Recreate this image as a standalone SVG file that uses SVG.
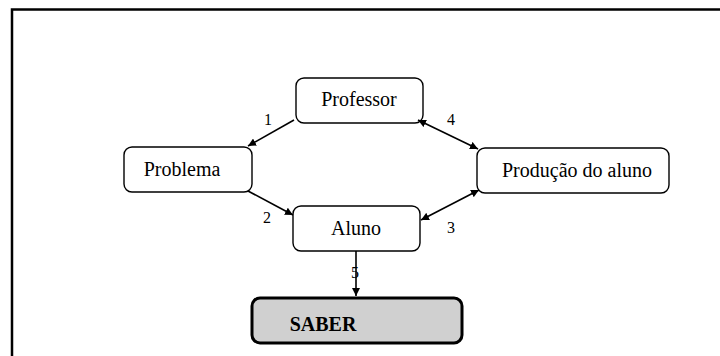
<svg xmlns="http://www.w3.org/2000/svg" width="720" height="356" viewBox="0 0 720 356">
<defs>
<marker id="ah" viewBox="0 0 10 10" refX="10" refY="5" markerWidth="8" markerHeight="8" markerUnits="userSpaceOnUse" orient="auto-start-reverse">
<path d="M0,0 L10,5 L0,10 z" fill="#000"/>
</marker>
<style>
.box{fill:#fff;stroke:#000;stroke-width:1.4}
.saber{fill:#d0d0d0;stroke:#000;stroke-width:3}
.t{font-family:"Liberation Serif","Times New Roman",serif;font-size:20px;fill:#000;text-anchor:middle}
.b{font-weight:bold}
.lbl{font-family:"Liberation Serif","Times New Roman",serif;font-size:16px;fill:#000;text-anchor:middle}
.c{stroke:#000;stroke-width:1.6;fill:none}
</style>
</defs>
<rect width="720" height="356" fill="#fff"/>
<path d="M12,356 V9.5 H720" fill="none" stroke="#000" stroke-width="2.5"/>
<g id="professor"><rect class="box" x="296" y="78" width="127" height="45" rx="8"/><text class="t" x="359" y="106">Professor</text></g>
<g id="problema"><rect class="box" x="124" y="147" width="128" height="45" rx="8"/><text class="t" x="182" y="176">Problema</text></g>
<g id="producao"><rect class="box" x="477" y="148" width="192" height="45" rx="8"/><text class="t" x="577" y="177">Produção do aluno</text></g>
<g id="aluno"><rect class="box" x="293" y="206" width="127" height="45" rx="8"/><text class="t" x="356" y="235">Aluno</text></g>
<g id="saber"><rect class="saber" x="252" y="298" width="210" height="45" rx="8"/><text class="t b" x="323" y="331">SABER</text></g>
<g id="connectors">
<line class="c" x1="294" y1="120" x2="248" y2="146" marker-end="url(#ah)"/>
<line class="c" x1="418" y1="120" x2="478" y2="149" marker-start="url(#ah)" marker-end="url(#ah)"/>
<line class="c" x1="248" y1="191" x2="293" y2="215" marker-end="url(#ah)"/>
<line class="c" x1="479" y1="190" x2="421" y2="220" marker-start="url(#ah)" marker-end="url(#ah)"/>
<line class="c" x1="356" y1="251" x2="356" y2="296" marker-end="url(#ah)"/>
<text class="lbl" x="268" y="125">1</text>
<text class="lbl" x="451" y="125">4</text>
<text class="lbl" x="267" y="223">2</text>
<text class="lbl" x="451" y="233">3</text>
<text class="lbl" x="355" y="278" font-size="15">5</text>
</g>
</svg>
